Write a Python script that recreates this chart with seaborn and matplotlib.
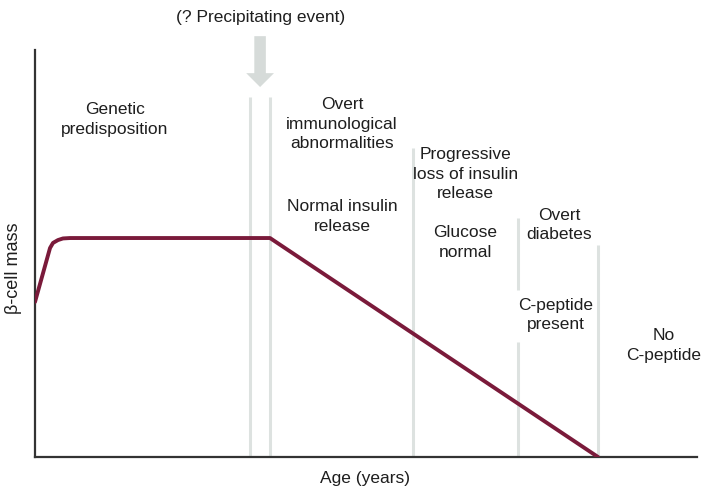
import matplotlib.pyplot as plt
import seaborn as sns
import pandas as pd

sns.set_theme(style="white")
plt.rcParams['font.family'] = ['Liberation Sans', 'DejaVu Sans']

# --- beta-cell mass curve (arbitrary units, x = age, y = mass) ---
age = [0, 2.27, 2.72, 3.47, 4.23, 5.29, 35.5, 85.05]
mass = [38.1, 51.35, 52.6, 53.3, 53.7, 53.8, 53.8, 0]
df = pd.DataFrame({'Age': age, 'Mass': mass})

# --- stage separators ---
sep_x = [32.48, 35.5, 57.1, 72.96, 72.96, 85.05]
sep_bottom = [0, 0, 0, 41.0, 0, 0]
sep_top = [88.45, 88.45, 75.9, 58.7, 28.3, 52.1]

# --- stage labels ---
labels = ['Genetic\npredisposition',
          'Overt\nimmunological\nabnormalities',
          'Normal insulin\nrelease',
          'Progressive\nloss of insulin\nrelease',
          'Glucose\nnormal',
          'Overt\ndiabetes',
          'C-peptide\npresent',
          'No\nC-peptide']
label_x = [12.08, 46.4, 46.4, 65.0, 65.0, 79.15, 78.7, 95.0]
label_y = [83.0, 81.8, 59.0, 69.5, 52.8, 57.0, 34.9, 27.3]

curve_color = '#7a1a3a'
sep_color = '#dde2e0'
text_color = '#1e1e1e'
fs = 12.5

fig = plt.figure(figsize=(7.03, 4.90), dpi=100)
ax = fig.add_axes([35 / 703, 33 / 490, 662 / 703, 407 / 490])

ax.vlines(sep_x, sep_bottom, sep_top, color=sep_color, lw=2.2, zorder=1)
sns.lineplot(data=df, x='Age', y='Mass', ax=ax, color=curve_color, lw=2.8,
             sort=False, zorder=3)

for t, x, y in zip(labels, label_x, label_y):
    ax.text(x, y, t, ha='center', va='center', fontsize=fs, color=text_color,
            linespacing=1.4)

ax.text(34.0, 107.9, '(? Precipitating event)', ha='center', va='center',
        fontsize=fs, color=text_color, clip_on=False)
ax.annotate('', xy=(34.0, 90.9), xytext=(34.0, 103.4), annotation_clip=False,
            arrowprops=dict(arrowstyle='simple,head_length=10,head_width=20,tail_width=8.3',
                            mutation_scale=1, color='#d6dbd9', shrinkA=0, shrinkB=0,
                            lw=0))

ax.set_xlim(0, 100)
ax.set_ylim(0, 100)
ax.set_xticks([])
ax.set_yticks([])
ax.set_xlabel('Age (years)', fontsize=fs, color=text_color, va='center')
ax.set_ylabel('β-cell mass', fontsize=fs + 0.5, color=text_color, va='center')
ax.yaxis.set_label_coords(-0.032, 0.464)
ax.xaxis.set_label_coords(0.4985, -0.052)

for side in ['top', 'right']:
    ax.spines[side].set_visible(False)
for side in ['left', 'bottom']:
    ax.spines[side].set_color('#333333')
    ax.spines[side].set_linewidth(1.6)

fig.savefig('out.png', dpi=100)
